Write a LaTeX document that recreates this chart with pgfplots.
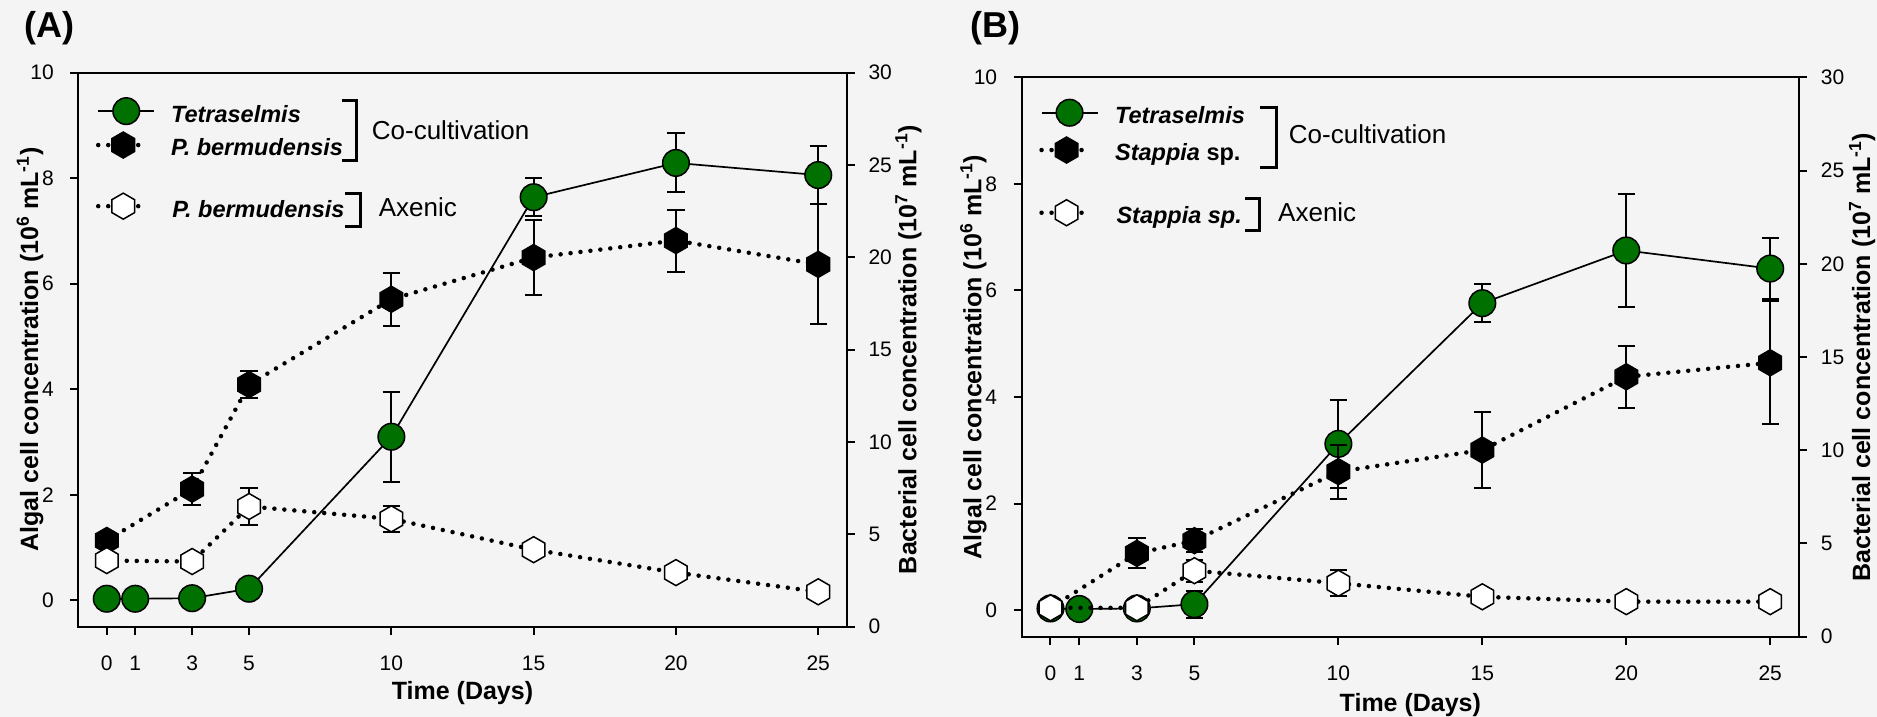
\documentclass[border=0pt]{standalone}
\usepackage{fontspec}
\setmainfont{Liberation Sans}
\usepackage{pgfplots}
\usepackage{pgfplotstable}
\pgfplotsset{compat=1.18}
\definecolor{bg}{RGB}{244,244,244}
\definecolor{tgreen}{RGB}{0,112,0}
\newcommand\labfont{\fontsize{25pt}{28pt}\selectfont\bfseries}
\newcommand\legfont{\fontsize{23.5pt}{26pt}\selectfont\bfseries\itshape}
\newcommand\grpfont{\fontsize{26pt}{28pt}\selectfont}

\pgfdeclareplotmark{hexagon}{%
  \pgfpathmoveto{\pgfqpointpolar{90}{\pgfplotmarksize}}%
  \pgfpathlineto{\pgfqpointpolar{150}{\pgfplotmarksize}}%
  \pgfpathlineto{\pgfqpointpolar{210}{\pgfplotmarksize}}%
  \pgfpathlineto{\pgfqpointpolar{270}{\pgfplotmarksize}}%
  \pgfpathlineto{\pgfqpointpolar{330}{\pgfplotmarksize}}%
  \pgfpathlineto{\pgfqpointpolar{30}{\pgfplotmarksize}}%
  \pgfpathclose
  \pgfusepathqfillstroke
}

% Panel A
\pgfplotstableread{
x y e
0 0.03 0
1 0.03 0
3 0.04 0
5 0.22 0
10 3.10 0.85
15 7.64 0.36
20 8.29 0.56
25 8.06 0.55
}\tetA
\pgfplotstableread{
x y e
0 4.67 0
3 7.45 0.85
5 13.11 0.72
10 17.73 1.44
15 19.99 2.02
20 20.91 1.68
25 19.62 3.25
}\bacA
\pgfplotstableread{
x y e
0 3.58 0
3 3.53 0
5 6.51 1.0
10 5.84 0.72
15 4.17 0
20 2.93 0
25 1.89 0.25
}\axA
% Panel B
\pgfplotstableread{
x y e
0 0.03 0
1 0.02 0
3 0.03 0
5 0.11 0.25
10 3.12 0.83
15 5.76 0.36
20 6.75 1.06
25 6.41 0.57
}\tetB
\pgfplotstableread{
x y e
0 1.55 0
3 4.47 0.8
5 5.15 0.63
10 8.85 1.45
15 10.01 2.03
20 13.94 1.65
25 14.69 3.3
}\bacB
\pgfplotstableread{
x y e
0 1.55 0
3 1.55 0
5 3.54 0.6
10 2.87 0.7
15 2.14 0
20 1.88 0
25 1.88 0
}\axB

\pgfplotsset{
  base/.style={scale only axis, xmin=-1, xmax=26, clip=false,
    tick align=outside, major tick length=8pt,
    axis line style={line width=2pt, black},
    tick style={line width=2pt, black},
    /pgf/number format/assume math mode=true,
    tick label style={font=\fontsize{21pt}{23pt}\selectfont},
    xticklabel shift=18pt,
    legend style={draw=none, fill=none, inner sep=0pt, outer sep=0pt, font=\legfont,
      cells={anchor=west, inner sep=0pt, text height=23.4pt, text depth=6.6pt}},
  },
  leftax/.style={base, ymin=-0.5, ymax=10, ytick={0,2,...,10},
    xtick={0,1,3,5,10,15,20,25}, xtick pos=left, ytick pos=left,
    yticklabel shift=13pt},
  rightax/.style={base, ymin=0, ymax=30, ytick={0,5,...,30},
    xtick=\empty, ytick pos=right, yticklabel shift=10.3pt},
  ebars/.style={error bars/y dir=both, error bars/y explicit,
    error bars/error bar style={line width=2pt, black, solid, line cap=butt},
    error bars/error mark options={rotate=90, mark size=8.7pt, line width=2pt, black, solid, line cap=butt}},
  tet/.style={draw=black, line width=1.7pt, mark=*, mark size=13.3pt,
    mark options={fill=tgreen, draw=black, line width=1.5pt},
    legend image code/.code={\draw[mark repeat=2,mark phase=2,##1] plot coordinates {(0pt,0pt) (28pt,0pt) (56pt,0pt)};},
    ebars},
  bact/.style={draw=black, line width=4.5pt, dash pattern=on 0pt off 10pt, line cap=round,
    mark=hexagon, mark size=13pt,
    mark options={solid, fill=black, draw=black, line width=1.5pt, line cap=butt},
    legend image code/.code={\draw[mark repeat=2,mark phase=2,##1] plot coordinates {(0pt,0pt) (25pt,0pt) (50pt,0pt)};},
    ebars},
  axen/.style={draw=black, line width=4.5pt, dash pattern=on 0pt off 10pt, line cap=round,
    mark=hexagon, mark size=13pt,
    mark options={solid, fill=white, draw=black, line width=1.5pt, line cap=butt},
    legend image code/.code={\draw[mark repeat=2,mark phase=2,##1] plot coordinates {(0pt,0pt) (25pt,0pt) (50pt,0pt)};},
    ebars},
}

\begin{document}
\begin{tikzpicture}
\fill[bg] (0pt,0pt) rectangle (1877pt,-717pt);
\useasboundingbox (0pt,0pt) rectangle (1877pt,-717pt);

% ---------------- Panel A ----------------
\begin{axis}[leftax, at={(78.3pt,-626.7pt)}, anchor=south west, width=768.4pt, height=554pt,
  xlabel={Time (Days)},
  ylabel={Algal cell concentration (10\textsuperscript{6} mL\textsuperscript{-1})},
  every axis y label/.style={at={(axis description cs:-0.05245,0.5)}, rotate=90, anchor=base, font=\labfont},
  every axis x label/.style={at={(axis description cs:0.5,0)}, anchor=base, yshift=-72.3pt, font=\labfont},
  legend style={at={(axis description cs:0.02303,0.9567)}, anchor=north west, row sep=5pt, column sep=14pt}]
\addplot[tet] table[x=x,y=y,y error=e] {\tetA};
\addlegendentry{Tetraselmis}
\addlegendimage{bact}
\addlegendentry{P. bermudensis}
\end{axis}
\begin{axis}[rightax, at={(78.3pt,-626.7pt)}, anchor=south west, width=768.4pt, height=554pt,
  ylabel={Bacterial cell concentration (10\textsuperscript{7} mL\textsuperscript{-1})},
  every axis y label/.style={at={(axis description cs:1.0907,0.5)}, rotate=90, anchor=base, font=\labfont},
  legend style={at={(axis description cs:0.02303,0.7852)}, anchor=north west, column sep=20pt}]
\addplot[bact, forget plot] table[x=x,y=y,y error=e] {\bacA};
\addplot[axen] table[x=x,y=y,y error=e] {\axA};
\addlegendentry{P. bermudensis}
\end{axis}

% ---------------- Panel B ----------------
\begin{axis}[leftax, at={(1021.7pt,-636.7pt)}, anchor=south west, width=777.3pt, height=559.4pt,
  xlabel={Time (Days)},
  ylabel={Algal cell concentration (10\textsuperscript{6} mL\textsuperscript{-1})},
  every axis y label/.style={at={(axis description cs:-0.0518,0.5)}, rotate=90, anchor=base, font=\labfont},
  every axis x label/.style={at={(axis description cs:0.5,0)}, anchor=base, yshift=-74.8pt, font=\labfont},
  legend style={at={(axis description cs:0.02264,0.9625)}, anchor=north west, row sep=8.4pt, column sep=14.7pt}]
\addplot[tet] table[x=x,y=y,y error=e] {\tetB};
\addlegendentry{Tetraselmis}
\addlegendimage{bact}
\addlegendentry{Stappia {\upshape sp.}}
\end{axis}
\begin{axis}[rightax, at={(1021.7pt,-636.7pt)}, anchor=south west, width=777.3pt, height=559.4pt,
  ylabel={Bacterial cell concentration (10\textsuperscript{7} mL\textsuperscript{-1})},
  every axis y label/.style={at={(axis description cs:1.0914,0.5)}, rotate=90, anchor=base, font=\labfont},
  legend style={at={(axis description cs:0.02264,0.7837)}, anchor=north west, column sep=20.7pt}]
\addplot[bact, forget plot] table[x=x,y=y,y error=e] {\bacB};
\addplot[axen] table[x=x,y=y,y error=e] {\axB};
\addlegendentry{Stappia sp.}
\end{axis}

% legend brackets and group labels
\draw[line width=3pt, line join=miter] (341.7pt,-100.7pt) -- (356.7pt,-100.7pt) -- (356.7pt,-160.7pt) -- (341.7pt,-160.7pt);
\node[anchor=base west, inner sep=0pt, font=\grpfont] at (371.7pt,-139.5pt) {Co-cultivation};
\draw[line width=3pt, line join=miter] (345pt,-193.3pt) -- (360pt,-193.3pt) -- (360pt,-226pt) -- (345pt,-226pt);
\node[anchor=base west, inner sep=0pt, font=\grpfont] at (378.7pt,-216pt) {Axenic};

\draw[line width=3pt, line join=miter] (1260pt,-107.3pt) -- (1276pt,-107.3pt) -- (1276pt,-167.3pt) -- (1260pt,-167.3pt);
\node[anchor=base west, inner sep=0pt, font=\grpfont] at (1288.7pt,-143.4pt) {Co-cultivation};
\draw[line width=3pt, line join=miter] (1245pt,-198.3pt) -- (1259.3pt,-198.3pt) -- (1259.3pt,-230.7pt) -- (1245pt,-230.7pt);
\node[anchor=base west, inner sep=0pt, font=\grpfont] at (1278pt,-221pt) {Axenic};

% panel letters
\node[anchor=base west, inner sep=0pt, font=\fontsize{36pt}{38pt}\selectfont\bfseries] at (24pt,-38pt) {(A)};
\node[anchor=base west, inner sep=0pt, font=\fontsize{36pt}{38pt}\selectfont\bfseries] at (970pt,-38pt) {(B)};
\end{tikzpicture}
\end{document}
